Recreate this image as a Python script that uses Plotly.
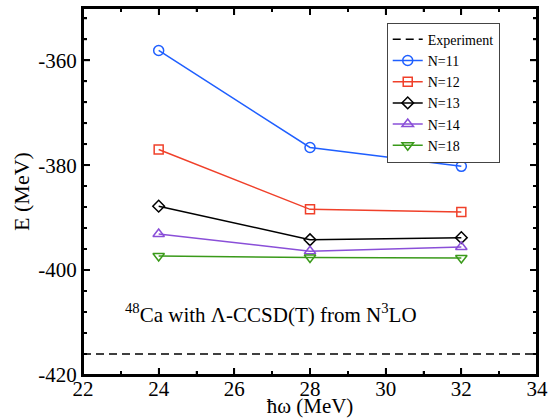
import plotly.graph_objects as go

hw = [24, 28, 32]
series_names = ["N=11", "N=12", "N=13", "N=14", "N=18"]
E_N11 = [-358.1, -376.6, -380.2]
E_N12 = [-377.0, -388.4, -388.9]
E_N13 = [-387.8, -394.2, -393.8]
E_N14 = [-393.1, -396.4, -395.6]
E_N18 = [-397.3, -397.6, -397.7]
experiment = -416.0
x_range = [22, 34]
y_range = [-420, -350]
x_major = [22, 24, 26, 28, 30, 32, 34]
x_minor = [23, 25, 27, 29, 31, 33]
y_tickvals = [-420, -400, -380, -360]
y_ticktext = ["-420", "-400", "-380", "-360"]
y_minor = [-416, -412, -408, -404, -396, -392, -388, -384, -376, -372, -368, -364, -356, -352]

series = [E_N11, E_N12, E_N13, E_N14, E_N18]
colors = ["#1f5fff", "#f0402a", "#000000", "#8a4fd8", "#3a9a1a"]
symbols = ["circle-open", "square-open", "diamond-open", "triangle-up-open", "triangle-down-open"]
sizes = [10, 9, 9, 10, 10]

W, H = 555, 418
M = dict(l=83, r=18, t=8, b=43)
font = "Liberation Serif"

fig = go.Figure()
fig.add_trace(go.Scatter(x=x_range, y=[experiment, experiment], mode="lines",
                         name="Experiment", line=dict(color="black", width=1.5, dash="8px,5px")))
for name, vals, c, s, sz in zip(series_names, series, colors, symbols, sizes):
    fig.add_trace(go.Scatter(x=hw, y=vals, mode="lines+markers", name=name,
                             line=dict(color=c, width=1.5),
                             marker=dict(symbol=s, size=sz, color=c, line=dict(color=c, width=1.5))))

# frame and inside tick marks drawn along the axis ranges, at the tick positions
px_x = (x_range[1] - x_range[0]) / (W - M["l"] - M["r"])
px_y = (y_range[1] - y_range[0]) / (H - M["t"] - M["b"])
fx = [x_range[0], x_range[1], x_range[1], x_range[0], x_range[0]]
fy = [y_range[0], y_range[0], y_range[1], y_range[1], y_range[0]]
fig.add_trace(go.Scatter(x=fx, y=fy, mode="lines", showlegend=False, hoverinfo="skip",
                         cliponaxis=False, line=dict(color="black", width=2)))
tx, ty = [], []
for vals, L in ((x_major, 7), (x_minor, 4)):
    for v in vals:
        tx += [v, v, None, v, v, None]
        ty += [y_range[0], y_range[0] + L * px_y, None, y_range[1], y_range[1] - L * px_y, None]
for vals, L in ((y_tickvals, 7), (y_minor, 4)):
    for v in vals:
        tx += [x_range[0], x_range[0] + L * px_x, None, x_range[1], x_range[1] - L * px_x, None]
        ty += [v, v, None, v, v, None]
fig.add_trace(go.Scatter(x=tx, y=ty, mode="lines", showlegend=False, hoverinfo="skip",
                         cliponaxis=False, connectgaps=False, line=dict(color="black", width=1.5)))

fig.add_annotation(x=23.05, y=-408.3, xref="x", yref="y", xanchor="left", yanchor="middle",
                   text="<sup>48</sup>Ca with Λ-CCSD(T) from N<sup>3</sup>LO",
                   showarrow=False, font=dict(family=font, size=21, color="black"))

def axis_style():
    return dict(showline=True, linecolor="black", linewidth=2, mirror="allticks",
                ticks="inside", ticklen=7, tickwidth=1.5, tickcolor="black",
                showgrid=False, zeroline=False,
                tickfont=dict(family=font, size=21, color="black"))

fig.update_layout(
    template="none",
    width=W, height=H,
    margin=M,
    paper_bgcolor="white", plot_bgcolor="white",
    font=dict(family=font, color="black"),
    xaxis=dict(range=x_range, tickmode="array", tickvals=x_major, ticklabelstandoff=-6,
               minor=dict(ticks="inside", tickvals=x_minor, ticklen=4, tickcolor="black", tickwidth=1.5),
               title=dict(text="ħω (MeV)", font=dict(family=font, size=21, color="black"), standoff=1),
               **axis_style()),
    yaxis=dict(range=y_range, tickmode="array", tickvals=y_tickvals, ticktext=y_ticktext,
               minor=dict(ticks="inside", tickvals=y_minor, ticklen=4, tickcolor="black", tickwidth=1.5),
               title=dict(text="E (MeV)", font=dict(family=font, size=22, color="black"), standoff=3),
               **axis_style()),
    showlegend=True,
    legend=dict(x=0.669, y=0.96, xanchor="left", yanchor="top",
                bgcolor="white", bordercolor="#444444", borderwidth=1,
                font=dict(family=font, size=14, color="black"),
                tracegroupgap=0, itemwidth=30),
)
fig.write_html("out.html", config={"displayModeBar": False},
               post_script="document.body.style.margin='0';document.body.style.overflow='hidden';")
